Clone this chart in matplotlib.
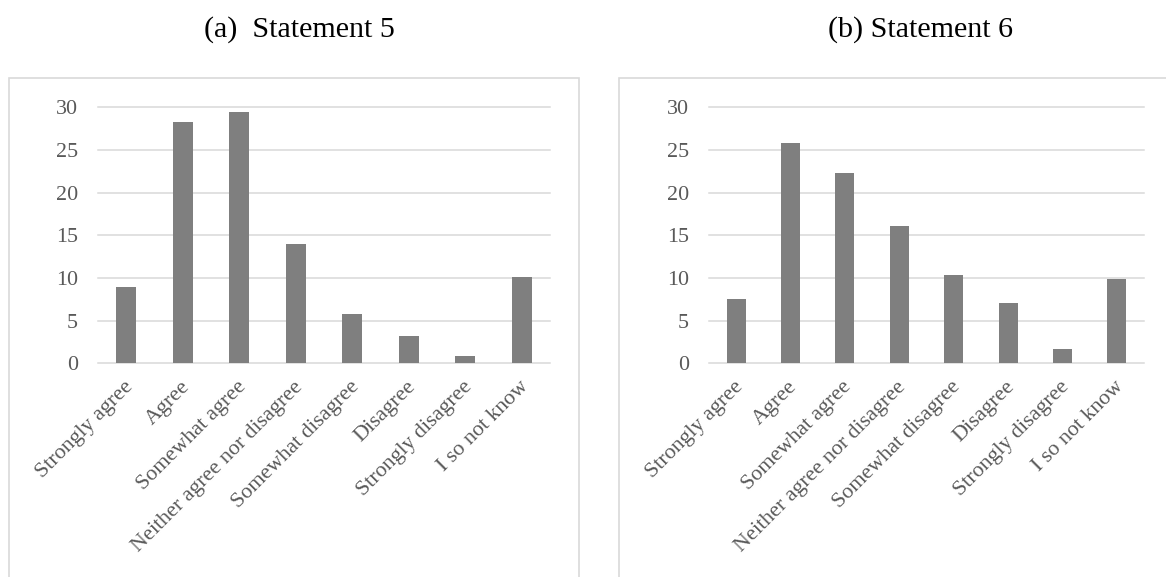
import matplotlib
matplotlib.use("Agg")
import matplotlib.pyplot as plt
from matplotlib.patches import Rectangle
from matplotlib.transforms import ScaledTranslation

categories = ["Strongly agree", "Agree", "Somewhat agree", "Neither agree nor disagree",
              "Somewhat disagree", "Disagree", "Strongly disagree", "I so not know"]
statement5 = [8.9, 28.25, 29.4, 13.95, 5.8, 3.2, 0.8, 10.15]
statement6 = [7.5, 25.8, 22.3, 16.1, 10.4, 7.05, 1.65, 9.9]
yticks = [0, 5, 10, 15, 20, 25, 30]
titles = ["(a)  Statement 5", "(b) Statement 6"]

W, H = 1166, 577
TXT = "#595959"
GRID = "#d9d9d9"
BAR = "#7f7f7f"
FONT = "Liberation Serif"


def px_box(x0, y_top, x1, y_bot):
    # pixel box -> figure fraction [left, bottom, width, height]
    return [x0 / W, 1 - y_bot / H, (x1 - x0) / W, (y_bot - y_top) / H]


def draw_panel(fig, rect, values):
    ax = fig.add_axes(rect)
    x = range(len(categories))
    ax.bar(x, values, width=0.35, color=BAR, zorder=3)
    ax.set_xlim(-0.5, len(categories) - 0.5)
    ax.set_ylim(0, 30)
    ax.set_yticks(yticks)
    ax.set_yticklabels([str(t) for t in yticks], fontfamily=FONT, fontsize=15.8, color=TXT)
    ax.set_xticks(list(x))
    ax.set_xticklabels(categories, rotation=45, ha="right", va="center",
                       rotation_mode="anchor", fontfamily=FONT, fontsize=15.8, color=TXT)
    ax.tick_params(axis="both", length=0)
    ax.tick_params(axis="y", pad=14.5)
    ax.tick_params(axis="x", pad=15)
    # nudge the slanted labels a little to the right, as in the original
    shift = ScaledTranslation(4 / 100, 0, fig.dpi_scale_trans)
    for lab in ax.get_xticklabels():
        lab.set_transform(lab.get_transform() + shift)
    ax.grid(axis="y", color=GRID, linewidth=1.1)
    for g in ax.get_ygridlines():
        g.set_clip_on(False)
    ax.set_axisbelow(True)
    for s in ax.spines.values():
        s.set_visible(False)
    ax.patch.set_alpha(0)
    return ax


fig = plt.figure(figsize=(W / 100, H / 100), dpi=100)

# outer chart frames (bottom runs past the image edge)
fig.patches.append(Rectangle((8.7 / W, -0.05), (579 - 8.7) / W, 1.05 - 78.3 / H,
                             transform=fig.transFigure, fill=False, edgecolor=GRID, linewidth=1.2))
fig.patches.append(Rectangle((619 / W, -0.05), 1.05 - 619 / W, 1.05 - 78.3 / H,
                             transform=fig.transFigure, fill=False, edgecolor=GRID, linewidth=1.2))

draw_panel(fig, px_box(98, 107.3, 550, 363.3), statement5)
draw_panel(fig, px_box(709, 107.3, 1144, 363.3), statement6)

fig.text(299 / W, 1 - 37 / H, titles[0], ha="center", va="baseline",
         fontfamily=FONT, fontsize=21.6, color="black")
fig.text(921 / W, 1 - 37 / H, titles[1], ha="center", va="baseline",
         fontfamily=FONT, fontsize=21.6, color="black")

plt.savefig("out.png", dpi=100)
